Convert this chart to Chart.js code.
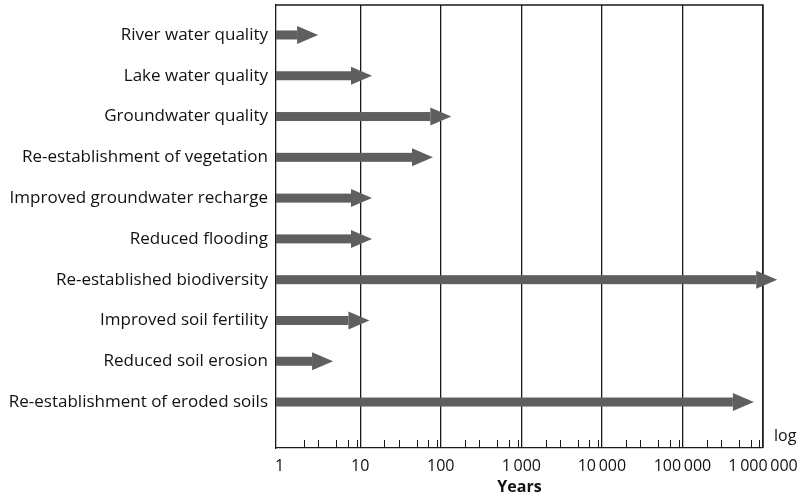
<!DOCTYPE html>
<html>
<head>
<meta charset="utf-8">
<script src="https://cdn.jsdelivr.net/npm/chart.js@4.4.1/dist/chart.umd.min.js"></script>
<style>
  html, body { margin: 0; padding: 0; background: #ffffff; }
  #wrap { width: 810px; height: 500px; position: relative; }
</style>
</head>
<body>
<div id="wrap"><canvas id="chart" width="810" height="500"></canvas></div>
<script>
// Recovery processes and the time (years) each one needs
const categories = [
  'River water quality',
  'Lake water quality',
  'Groundwater quality',
  'Re-establishment of vegetation',
  'Improved groundwater recharge',
  'Reduced flooding',
  'Re-established biodiversity',
  'Improved soil fertility',
  'Reduced soil erosion',
  'Re-establishment of eroded soils'
];
const recoveryYears = [3, 14, 135, 80, 14, 14, 1500000, 13, 4.6, 770000];

// Log axis: labelled decades and the small in-between marks
const majorTicks = [1, 10, 100, 1000, 10000, 100000, 1000000];
const majorTickLabels = ['1', '10', '100', '1\u2009000', '10\u2009000', '100\u2009000', '1\u2009000\u2009000'];
const minorMultipliers = [2, 3, 5, 7, 9];

const AXIS_MIN = 0.9;
const AXIS_MAX = 1000000;
const FONT = '"Open Sans", "Noto Sans", sans-serif';
const ARROW_COLOR = '#5f5f5f';

// Arrows: shaft plus triangular head, laid over each bar element
const arrowPlugin = {
  id: 'arrows',
  afterDatasetsDraw(chart) {
    const ctx = chart.ctx;
    const meta = chart.getDatasetMeta(0);
    const shaft = 9, headLen = 21, headHalf = 9;
    ctx.save();
    ctx.fillStyle = ARROW_COLOR;
    meta.data.forEach((bar) => {
      const tip = bar.x, base = bar.base, y = bar.y;
      ctx.fillRect(base, y - shaft / 2, tip - headLen - base, shaft);
      ctx.beginPath();
      ctx.moveTo(tip - headLen, y - headHalf);
      ctx.lineTo(tip, y);
      ctx.lineTo(tip - headLen, y + headHalf);
      ctx.closePath();
      ctx.fill();
    });
    ctx.restore();
  }
};

// Frame, minor tick marks and the "log" note at the end of the axis
const framePlugin = {
  id: 'frame',
  beforeDatasetsDraw(chart) {
    const { ctx, chartArea: a } = chart;
    const xs = chart.scales.x;
    ctx.save();
    ctx.strokeStyle = '#1a1a1a';
    ctx.lineWidth = 1.3;
    ctx.beginPath();
    ctx.moveTo(a.left, a.top);
    ctx.lineTo(a.right, a.top);
    ctx.lineTo(a.right, a.bottom);
    ctx.stroke();
    ctx.lineWidth = 1;
    ctx.beginPath();
    majorTicks.slice(0, -1).forEach((d) => {
      minorMultipliers.forEach((m) => {
        const px = Math.round(xs.getPixelForValue(d * m)) + 0.5;
        ctx.moveTo(px, a.bottom);
        ctx.lineTo(px, a.bottom - 8);
      });
    });
    ctx.stroke();
    ctx.fillStyle = '#111';
    ctx.font = '16px ' + FONT;
    ctx.textAlign = 'left';
    ctx.textBaseline = 'alphabetic';
    ctx.fillText('log', a.right + 11, a.bottom - 7);
    ctx.restore();
  }
};

new Chart(document.getElementById('chart'), {
  type: 'bar',
  data: {
    datasets: [{
      data: recoveryYears.map((v, i) => ({ x: [AXIS_MIN, v], y: i })),
      backgroundColor: 'rgba(0,0,0,0)',
      borderWidth: 0,
      barThickness: 9,
      clip: false
    }]
  },
  options: {
    indexAxis: 'y',
    responsive: false,
    animation: false,
    events: [],
    layout: { padding: { top: 5, right: 47, bottom: 0, left: 0 } },
    plugins: { legend: { display: false }, tooltip: { enabled: false } },
    scales: {
      x: {
        type: 'logarithmic',
        min: AXIS_MIN,
        max: AXIS_MAX,
        afterBuildTicks(scale) {
          scale.ticks = majorTicks.map((v) => ({ value: v, major: true }));
        },
        afterFit(scale) {
          scale.height = 52;
          scale.paddingLeft = 0;
          scale.paddingRight = 0;
        },
        grid: {
          drawTicks: false,
          color: (c) => (c.tick && c.tick.value === 1 ? 'rgba(0,0,0,0)' : '#1a1a1a'),
          lineWidth: 1.3
        },
        border: { display: true, color: '#1a1a1a', width: 1.3 },
        ticks: {
          autoSkip: false,
          maxRotation: 0,
          padding: 9,
          color: '#111',
          font: { family: FONT, size: 16 },
          callback: (v) => {
            const i = majorTicks.indexOf(v);
            return i >= 0 ? majorTickLabels[i] : '';
          }
        },
        title: {
          display: true,
          text: 'Years',
          color: '#111',
          padding: { top: 0, bottom: 3 },
          font: { family: FONT, size: 16, weight: 'bold' }
        }
      },
      y: {
        type: 'linear',
        reverse: true,
        offset: false,
        min: -0.735,
        max: 10.127,
        afterBuildTicks(scale) {
          scale.ticks = categories.map((_, i) => ({ value: i }));
        },
        afterFit(scale) {
          scale.width = 276;
          scale.paddingTop = 0;
          scale.paddingBottom = 0;
        },
        grid: { display: false, drawTicks: false },
        border: { display: true, color: '#1a1a1a', width: 1.3 },
        ticks: {
          autoSkip: false,
          padding: 8,
          color: '#111',
          font: { family: FONT, size: 17 },
          callback: (v) => categories[v] ?? ''
        }
      }
    }
  },
  plugins: [framePlugin, arrowPlugin]
});
</script>
</body>
</html>
